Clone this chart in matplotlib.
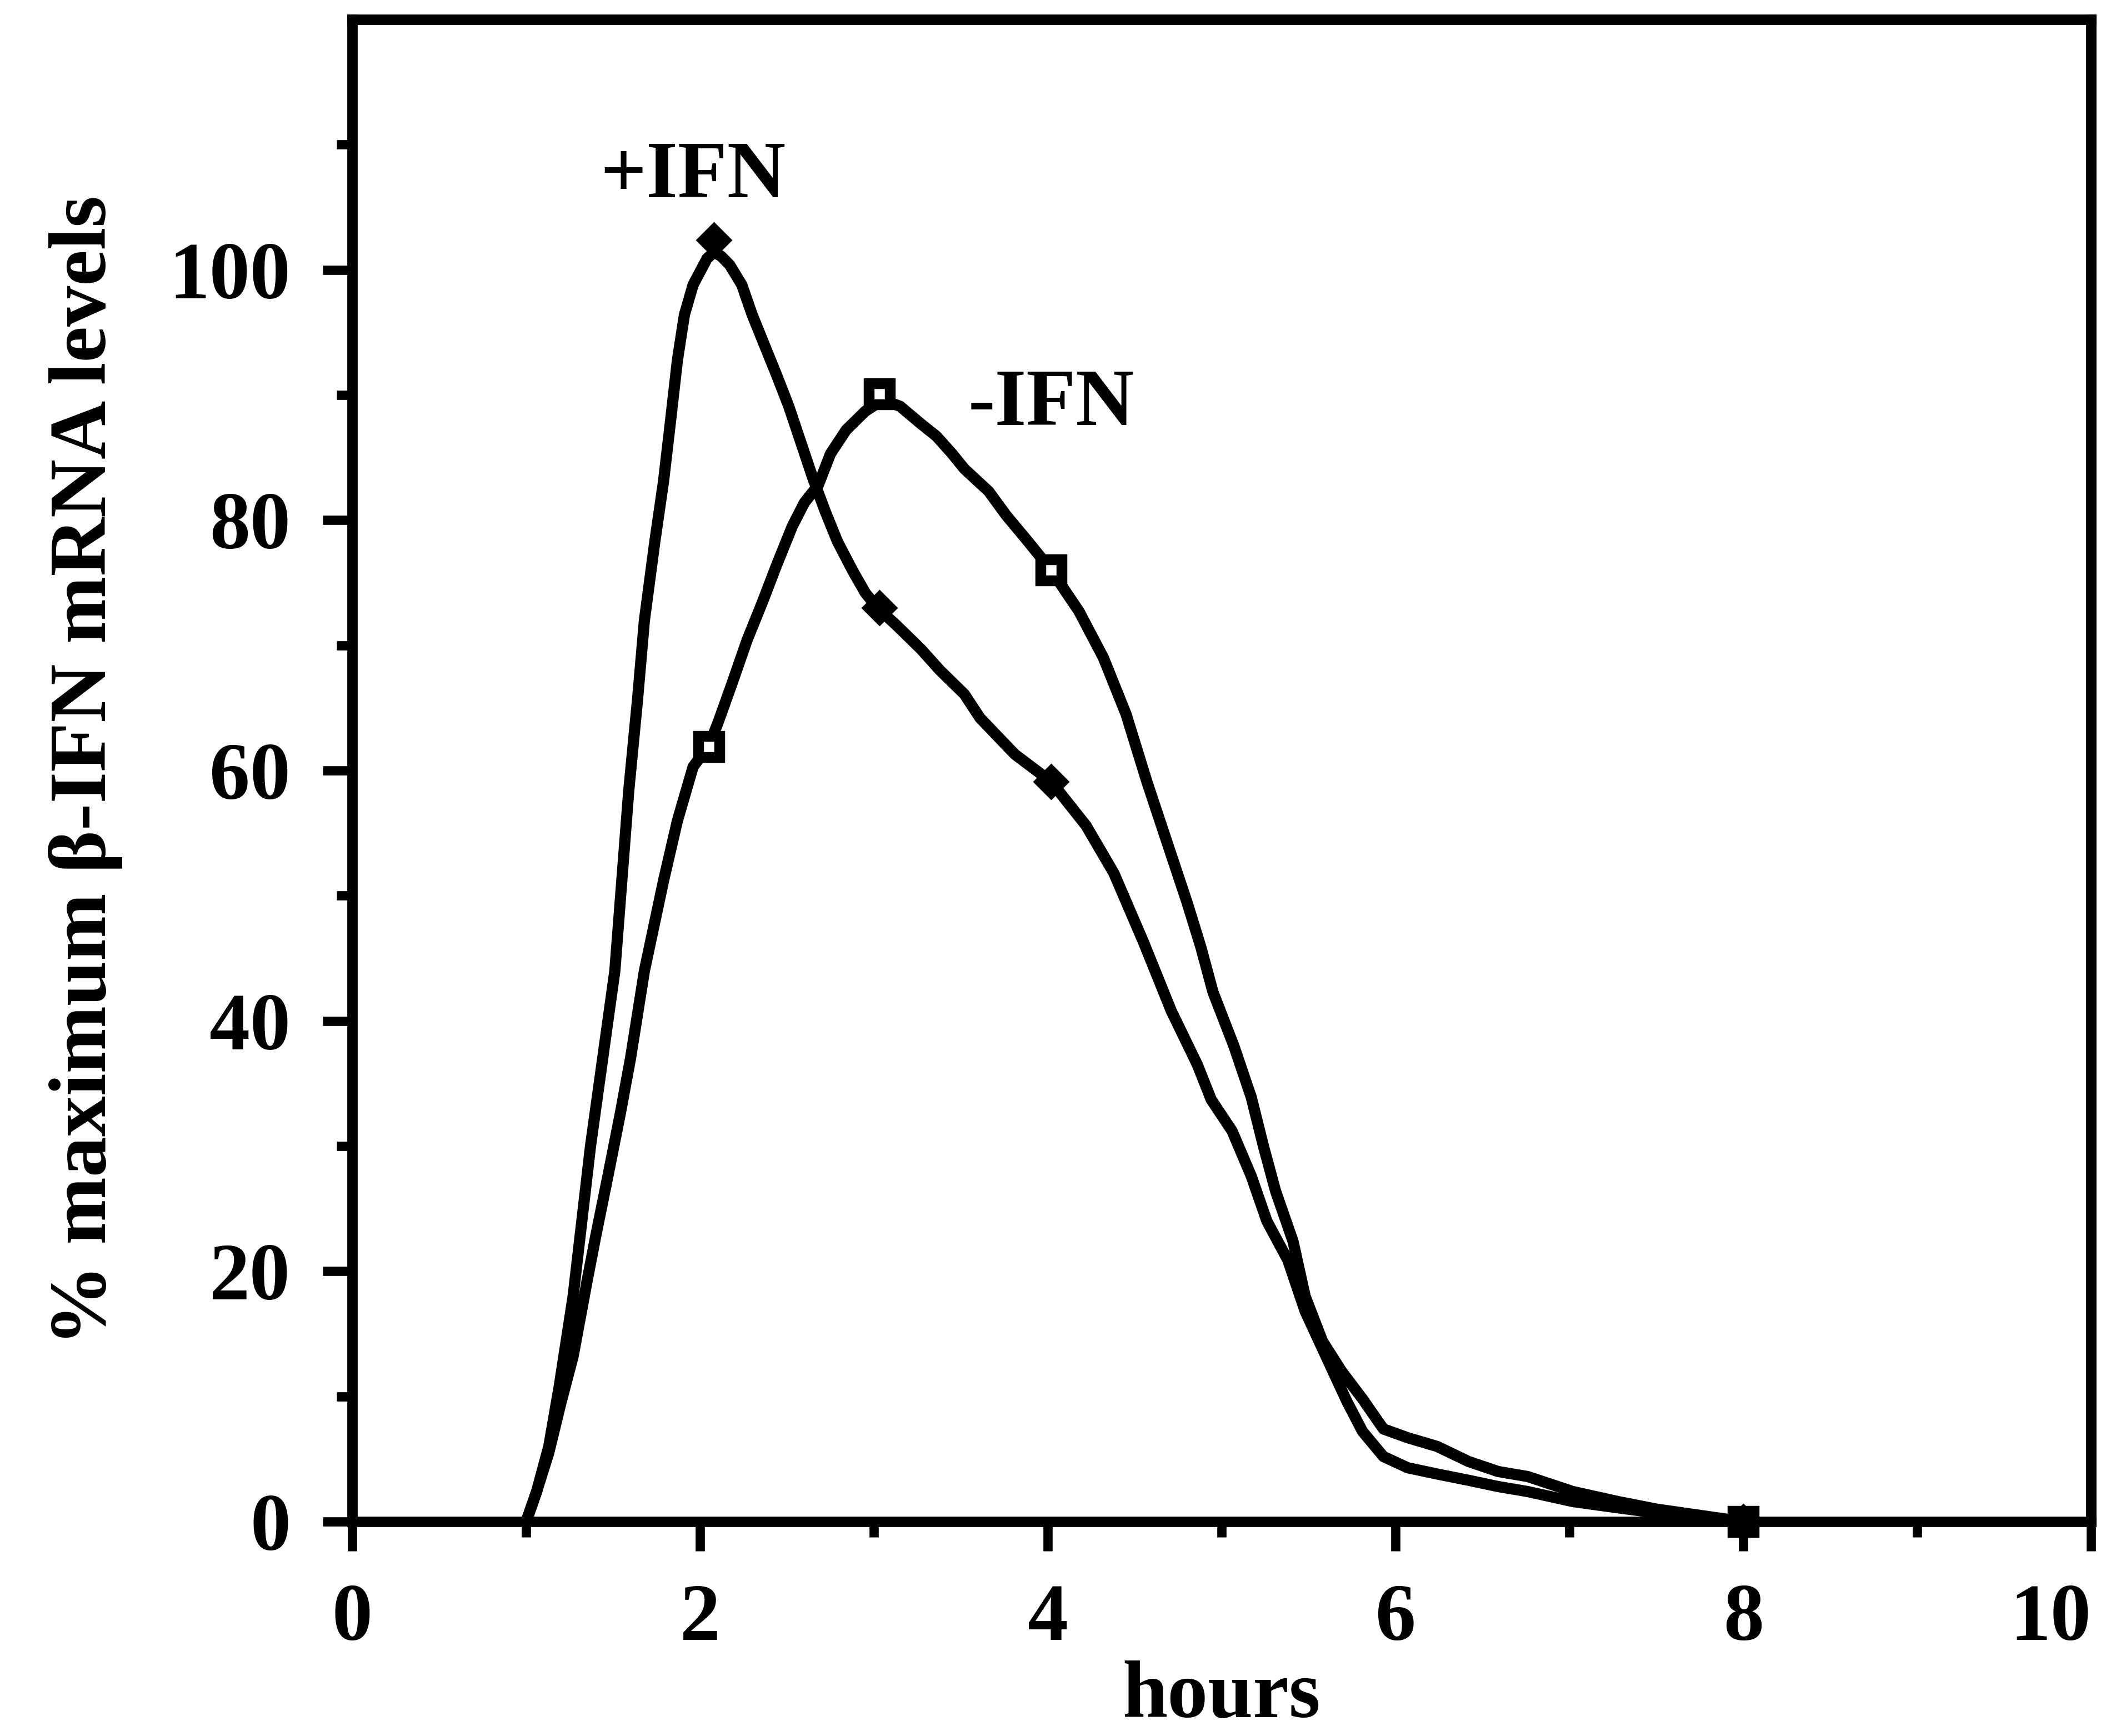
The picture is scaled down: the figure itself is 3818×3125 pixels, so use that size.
import matplotlib
matplotlib.use("Agg")
import matplotlib.pyplot as plt

plt.rcParams['font.family'] = ['Liberation Serif', 'DejaVu Serif']
plt.rcParams['font.weight'] = 'bold'
plt.rcParams['axes.labelweight'] = 'bold'

# traced curves (hours, % maximum)
ifn_plus_x = [1.00, 1.06, 1.13, 1.19, 1.27, 1.32, 1.37, 1.44, 1.51, 1.55, 1.59, 1.64, 1.68,
              1.74, 1.79, 1.83, 1.87, 1.91, 1.96, 2.04, 2.08, 2.12, 2.17, 2.24, 2.30, 2.37,
              2.44, 2.51, 2.58, 2.65, 2.72, 2.79, 2.88, 2.95, 3.02, 3.13, 3.27, 3.38, 3.52,
              3.61, 3.81, 4.02, 4.22, 4.38, 4.55, 4.71, 4.86, 4.94, 5.06, 5.17, 5.26, 5.38,
              5.48, 5.60, 5.72, 5.81, 5.93, 6.07, 6.24, 6.42, 6.59, 6.76, 7.02, 7.28, 7.50,
              7.80, 8.00]
ifn_plus_y = [0.0, 2.4, 6.0, 10.8, 18.0, 24.0, 30.0, 37.0, 44.0, 51.2, 58.4, 65.6, 72.0,
              78.3, 83.1, 87.9, 92.8, 96.4, 98.8, 100.9, 101.4, 101.1, 100.4, 98.8, 96.4, 94.0,
              91.6, 89.1, 86.2, 83.3, 80.7, 78.3, 75.9, 74.2, 73.0, 71.6, 69.7, 68.0, 66.1,
              64.2, 61.3, 59.1, 55.6, 51.8, 46.3, 40.8, 36.5, 33.7, 31.2, 27.6, 24.0, 20.9,
              16.8, 13.2, 9.6, 7.2, 5.2, 4.3, 3.8, 3.3, 2.8, 2.4, 1.6, 1.1, 0.7,
              0.3, 0.0]

ifn_minus_x = [1.00, 1.06, 1.13, 1.20, 1.27, 1.35, 1.40, 1.47, 1.54, 1.60, 1.68, 1.79, 1.87,
               1.96, 2.05, 2.10, 2.18, 2.27, 2.36, 2.44, 2.53, 2.60, 2.68, 2.75, 2.84, 2.95,
               3.05, 3.15, 3.27, 3.36, 3.45, 3.52, 3.66, 3.76, 3.88, 4.02, 4.18, 4.32, 4.45,
               4.57, 4.68, 4.80, 4.88, 4.95, 5.07, 5.17, 5.24, 5.31, 5.41, 5.48, 5.58, 5.69,
               5.81, 5.93, 6.07, 6.24, 6.42, 6.59, 6.76, 7.02, 7.28, 7.50, 7.80, 8.00]
ifn_minus_y = [0.0, 2.4, 5.5, 9.5, 13.2, 19.2, 22.8, 27.6, 32.5, 37.0, 44.0, 51.2, 56.0,
               60.3, 62.0, 63.7, 66.8, 70.4, 73.5, 76.4, 79.5, 81.4, 82.8, 85.3, 87.2, 88.7,
               89.6, 89.1, 87.7, 86.7, 85.3, 84.1, 82.3, 80.4, 78.4, 76.0, 72.7, 69.0, 64.5,
               59.1, 54.5, 49.5, 45.9, 42.3, 38.0, 33.9, 30.0, 26.4, 22.4, 18.0, 14.4, 12.0,
               9.8, 7.4, 6.7, 6.0, 4.8, 4.0, 3.6, 2.4, 1.6, 1.0, 0.4, 0.0]

# measured points (markers)
plus_pts_x = [2.08, 3.03, 4.02, 8.0]
plus_pts_y = [102.4, 73.0, 59.1, 0.0]
minus_pts_x = [2.05, 3.03, 4.02, 8.0]
minus_pts_y = [61.9, 90.1, 76.0, 0.0]

x_ticks = [0, 2, 4, 6, 8, 10]
x_minor = [1, 3, 5, 7, 9]
y_ticks = [0, 20, 40, 60, 80, 100]
y_minor = [10, 30, 50, 70, 90, 110]

fig = plt.figure(figsize=(38.18, 31.25), dpi=100)
ax = fig.add_axes([0.1661, 0.1235, 0.8198, 0.8653])

lw = 14.5
ax.plot(ifn_plus_x, ifn_plus_y, color='black', lw=lw, solid_capstyle='round',
        solid_joinstyle='round', zorder=3)
ax.plot(ifn_minus_x, ifn_minus_y, color='black', lw=lw, solid_capstyle='round',
        solid_joinstyle='round', zorder=3)
ax.plot(minus_pts_x, minus_pts_y, ls='none', marker='s', ms=28, mew=14,
        mfc='white', mec='black', zorder=4, clip_on=False)
ax.plot(plus_pts_x, plus_pts_y, ls='none', marker='D', ms=32, mew=2,
        mfc='black', mec='black', zorder=5, clip_on=False)

fs = 105
ax.text(1.96, 105.8, '+IFN', fontsize=fs, ha='center', va='baseline')
ax.text(3.54, 87.6, '-IFN', fontsize=fs, ha='left', va='baseline')

ax.set_xlim(0, 10)
ax.set_ylim(0, 120)
ax.set_xticks(x_ticks, [str(t) for t in x_ticks])
ax.set_xticks(x_minor, minor=True)
ax.set_yticks(y_ticks, [str(t) for t in y_ticks])
ax.set_yticks(y_minor, minor=True)

for s in ax.spines.values():
    s.set_linewidth(13.5)
ax.tick_params(which='major', direction='out', length=38, width=12, pad=42,
               labelsize=fs, top=False, right=False)
ax.tick_params(which='minor', direction='out', length=20, width=12,
               top=False, right=False)

# keep the last x label inside the figure, as in the original
ax.get_xticklabels()[-1].set_horizontalalignment('right')

ax.set_xlabel('hours', fontsize=fs, labelpad=4)
ax.set_ylabel('% maximum β-IFN mRNA levels', fontsize=fs, labelpad=60)

fig.savefig('out.png', dpi=100, facecolor='white')
